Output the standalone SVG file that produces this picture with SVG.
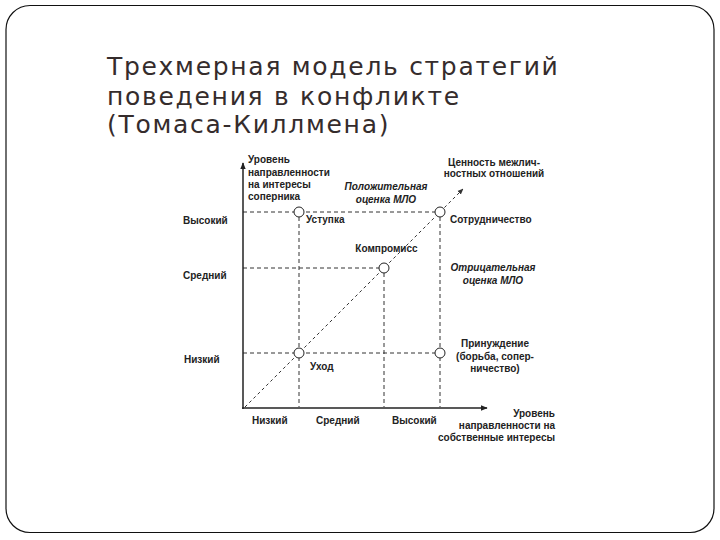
<svg xmlns="http://www.w3.org/2000/svg" width="720" height="540" viewBox="0 0 720 540">
<defs>
<marker id="arr" viewBox="0 0 10 10" refX="9" refY="5" markerWidth="7" markerHeight="7" markerUnits="userSpaceOnUse" orient="auto">
<path d="M0,1 L10,5 L0,9 Z" fill="#222"/>
</marker>
<marker id="arrs" viewBox="0 0 10 10" refX="9" refY="5" markerWidth="6" markerHeight="6" markerUnits="userSpaceOnUse" orient="auto">
<path d="M0,1 L10,5 L0,9 Z" fill="#333"/>
</marker>
</defs>
<style>
.title{font-family:"DejaVu Sans","Open Sans",sans-serif;font-size:25px;fill:#352c2c;letter-spacing:1.7px}
.lbl{font-family:"Liberation Sans",Arial,sans-serif;font-size:10px;font-weight:bold;fill:#222}
.it{font-style:italic}
.axis{stroke:#222;stroke-width:1.5;fill:none}
.dash{stroke:#333;stroke-width:1;stroke-dasharray:4 3;fill:none}
.diag{stroke:#333;stroke-width:1;stroke-dasharray:3 3;fill:none}
.pt{fill:#fff;stroke:#222;stroke-width:1}
</style>
<rect x="6" y="5.5" width="708" height="527" rx="24" ry="24" fill="#fff" stroke="#111" stroke-width="1.2"/>
<g id="title">
<text class="title" x="107" y="75">Трехмерная модель стратегий</text>
<text class="title" x="107" y="104.5">поведения в конфликте</text>
<text class="title" x="107" y="133">(Томаса-Киллмена)</text>
</g>
<g id="connectors">
<line class="dash" x1="243" y1="212" x2="435" y2="212"/>
<line class="dash" x1="243" y1="268" x2="379" y2="268"/>
<line class="dash" x1="243" y1="353" x2="435" y2="353"/>
<line class="dash" x1="299" y1="217" x2="299" y2="407"/>
<line class="dash" x1="384" y1="273" x2="384" y2="407"/>
<line class="dash" x1="440" y1="217" x2="440" y2="407"/>
<line class="diag" x1="245" y1="407" x2="463" y2="189" marker-end="url(#arrs)"/>
<line class="axis" x1="243" y1="409" x2="243" y2="163" marker-end="url(#arr)"/>
<line class="axis" x1="242" y1="408" x2="487" y2="408" marker-end="url(#arr)"/>
</g>
<g id="axis-y-label">
<text class="lbl" x="248" y="163">Уровень</text>
<text class="lbl" x="248" y="175.5">направленности</text>
<text class="lbl" x="248" y="187.5">на интересы</text>
<text class="lbl" x="248" y="199.5">соперника</text>
</g>
<g id="axis-x-label">
<text class="lbl" x="555" y="417" text-anchor="end">Уровень</text>
<text class="lbl" x="555" y="429" text-anchor="end">направленности на</text>
<text class="lbl" x="555" y="441" text-anchor="end">собственные интересы</text>
</g>
<g id="diag-label">
<text class="lbl" x="494" y="165.5" text-anchor="middle">Ценность межлич-</text>
<text class="lbl" x="494" y="177" text-anchor="middle">ностных отношений</text>
</g>
<g id="positive">
<text class="lbl it" x="386" y="190" text-anchor="middle">Положительная</text>
<text class="lbl it" x="386" y="203" text-anchor="middle">оценка МЛО</text>
</g>
<g id="negative">
<text class="lbl it" x="493" y="271" text-anchor="middle">Отрицательная</text>
<text class="lbl it" x="493" y="283.5" text-anchor="middle">оценка МЛО</text>
</g>
<g id="y-levels">
<text class="lbl" x="183" y="224">Высокий</text>
<text class="lbl" x="183" y="279">Средний</text>
<text class="lbl" x="184" y="363">Низкий</text>
</g>
<g id="x-levels">
<text class="lbl" x="252" y="424">Низкий</text>
<text class="lbl" x="316" y="424">Средний</text>
<text class="lbl" x="392" y="424">Высокий</text>
</g>
<g id="ustupka">
<circle class="pt" cx="299" cy="212" r="5"/>
<text class="lbl" x="306" y="222.5">Уступка</text>
</g>
<g id="sotrudnichestvo">
<circle class="pt" cx="440" cy="212" r="5"/>
<text class="lbl" x="450" y="222.5">Сотрудничество</text>
</g>
<g id="kompromiss">
<circle class="pt" cx="384" cy="268" r="5"/>
<text class="lbl" x="386.5" y="251.5" text-anchor="middle">Компромисс</text>
</g>
<g id="uhod">
<circle class="pt" cx="299" cy="353" r="5"/>
<text class="lbl" x="310" y="369.5">Уход</text>
</g>
<g id="prinuzhdenie">
<circle class="pt" cx="440" cy="353" r="5"/>
<text class="lbl" x="495" y="347" text-anchor="middle">Принуждение</text>
<text class="lbl" x="495" y="359.5" text-anchor="middle">(борьба, сопер-</text>
<text class="lbl" x="495" y="371.5" text-anchor="middle">ничество)</text>
</g>
</svg>
